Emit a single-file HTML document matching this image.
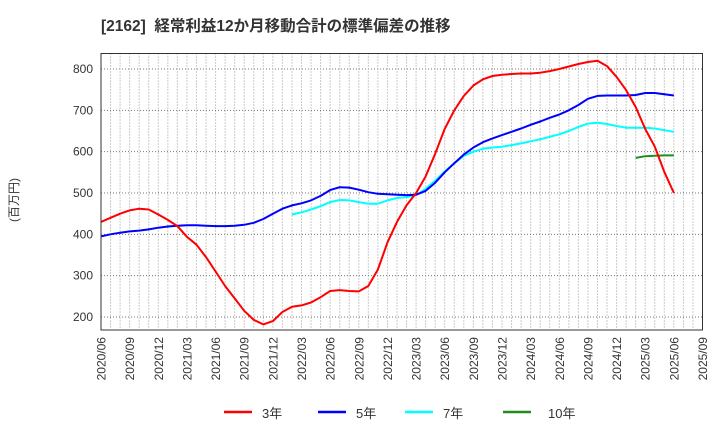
<!DOCTYPE html>
<html><head><meta charset="utf-8"><style>
body{margin:0;background:#fff;}
svg{display:block;font-family:"Liberation Sans","Noto Sans CJK JP",sans-serif;}
</style></head><body>
<svg id="s" width="720" height="440" xmlns="http://www.w3.org/2000/svg">
<rect width="720" height="440" fill="#fff"/>
<text x="101" y="31" font-size="15.5" font-weight="bold" fill="#333">[2162]&#160;&#160;経常利益12か月移動合計の標準偏差の推移</text>
<text transform="translate(18,200) rotate(-90)" font-size="12" fill="#333" text-anchor="middle">(百万円)</text>
<g id="grid"></g>
<g id="lines"></g>
<rect x="101" y="53.5" width="601.5" height="276.5" fill="none" stroke="#333" stroke-width="1"/>
<g font-size="13" fill="#333">
<line x1="224" y1="412" x2="252" y2="412" stroke="#f00" stroke-width="2.5"/><text x="262" y="418">3年</text>
<line x1="318" y1="412" x2="346" y2="412" stroke="#00f" stroke-width="2.5"/><text x="356" y="418">5年</text>
<line x1="405" y1="412" x2="433" y2="412" stroke="#0ff" stroke-width="2.5"/><text x="443" y="418">7年</text>
<line x1="503" y1="412" x2="531" y2="412" stroke="#228b22" stroke-width="2.5"/><text x="548" y="418">10年</text>
</g>
</svg>
<script>
var ns="http://www.w3.org/2000/svg";
function el(t,a,p){var e=document.createElementNS(ns,t);for(var k in a)e.setAttribute(k,a[k]);p.appendChild(e);return e;}
var L=101,R=702.5,T=53.5,B=330,pm=(R-L)/63;
function X(m){return L+m*pm;}
function Y(v){return 317-(v-200)*0.41333;}
var g=document.getElementById('grid');
for(var m=1;m<63;m++){el('line',{x1:X(m),y1:T,x2:X(m),y2:B,stroke:'#999','stroke-width':1,'stroke-dasharray':'1,2'},g);}
for(var v=200;v<=800;v+=100){el('line',{x1:L,y1:Y(v),x2:R,y2:Y(v),stroke:'#777','stroke-width':1,'stroke-dasharray':'1,2'},g);
var t=el('text',{x:L-8,y:Y(v)+4,'text-anchor':'end','font-size':12,fill:'#333'},g);t.textContent=v;}
var labs=[];for(var y=2020;y<=2025;y++)for(var q of ['03','06','09','12']){labs.push(y+'/'+q);}
labs=labs.slice(1,23);
labs.forEach(function(s,i){var x=X(i*3)+4.5;var t=el('text',{transform:'translate('+x+',337) rotate(-90)','text-anchor':'end','font-size':12,fill:'#333'},g);t.textContent=s;});
var red=[430,440,450,458,462,460,448,435,420,408,394,375,345,310,275,245,215,193,182,190,212,225,228,235,248,263,265,263,262,275,315,380,430,470,500,540,595,655,700,735,760,775,783,786,788,789,789,791,795,800,806,812,817,820,807,781,749,708,655,612,551,500];
red.splice(9,1);
var blue=[395,400,404,407,409,412,416,419,421,422,422,421,420,420,421,423,428,437,450,462,470,475,482,493,507,514,513,508,502,498,497,496,495,496,505,525,550,572,593,610,623,632,640,648,656,665,673,682,690,700,713,728,735,736,736,736,737,742,742,739,736];
var cyan=[448,453,460,468,478,483,482,478,474,474,482,488,490,495,510,530,552,572,590,600,607,610,612,616,620,625,630,636,642,650,660,668,670,667,662,658,658,658,656,652,648];
var green=[585,589,590,591,591];
var lg=document.getElementById('lines');
function draw(d,s,c){var p='';d.forEach(function(v,i){p+=(i?'L':'M')+X(s+i).toFixed(1)+','+Y(v).toFixed(1);});el('path',{d:p,fill:'none',stroke:c,'stroke-width':2,'stroke-linejoin':'round'},lg);}
draw(cyan,20,'#0ff');draw(green,56,'#228b22');draw(blue,0,'#00f');draw(red,0,'#f00');
</script>
</body></html>
